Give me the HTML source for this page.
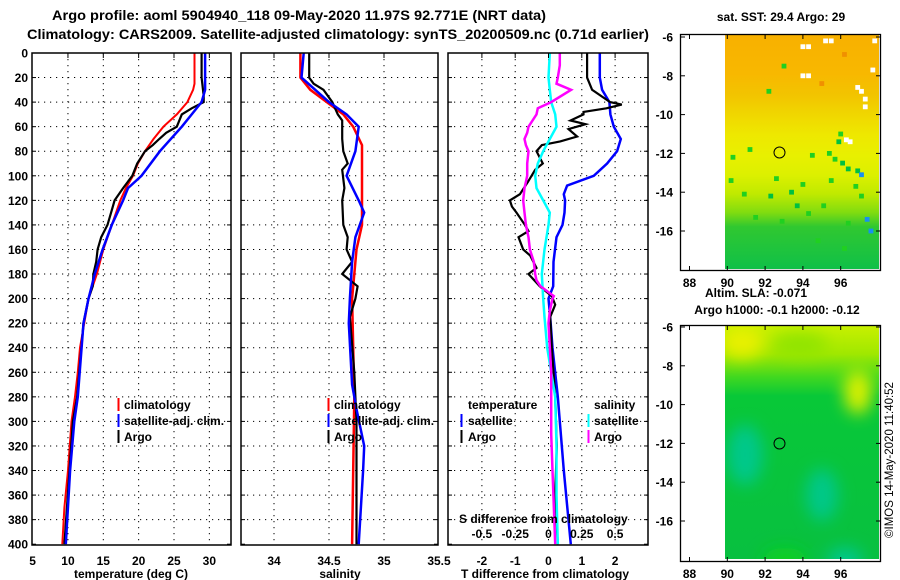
<!DOCTYPE html>
<html><head><meta charset="utf-8"><style>
html,body{margin:0;padding:0;background:#fff}
svg{display:block;font-family:"Liberation Sans",sans-serif;font-weight:bold}
</style></head><body>
<svg id="root" width="900" height="580" viewBox="0 0 900 580" xmlns="http://www.w3.org/2000/svg">
<defs>
<linearGradient id="sstgrad" x1="0" y1="0" x2="0" y2="1">
<stop offset="0" stop-color="#f8b000"/><stop offset="0.17" stop-color="#f8b800"/>
<stop offset="0.26" stop-color="#f2c400"/><stop offset="0.35" stop-color="#f0d800"/>
<stop offset="0.43" stop-color="#eee800"/><stop offset="0.52" stop-color="#e8f000"/>
<stop offset="0.6" stop-color="#dcf000"/><stop offset="0.68" stop-color="#c0ea00"/>
<stop offset="0.76" stop-color="#80dc10"/><stop offset="0.82" stop-color="#30c830"/>
<stop offset="1" stop-color="#10c048"/></linearGradient>
<linearGradient id="slagrad" x1="0" y1="0" x2="0" y2="1">
<stop offset="0" stop-color="#c8f000"/><stop offset="0.12" stop-color="#a0e800"/>
<stop offset="0.22" stop-color="#40d820"/><stop offset="0.3" stop-color="#08c838"/>
<stop offset="1" stop-color="#08c040"/></linearGradient>
<filter id="blur" x="-50%" y="-50%" width="200%" height="200%"><feGaussianBlur stdDeviation="8"/></filter>
<clipPath id="cp1"><rect x="32" y="53" width="199" height="492"/></clipPath>
<clipPath id="cp2"><rect x="241" y="53" width="197" height="492"/></clipPath>
<clipPath id="cp3"><rect x="448" y="53" width="200" height="492"/></clipPath>
<clipPath id="cpm2"><rect x="725" y="326" width="154" height="233"/></clipPath>
</defs>
<text x="299" y="20" text-anchor="middle" font-size="13.5" textLength="494" lengthAdjust="spacingAndGlyphs">Argo profile: aoml 5904940_118 09-May-2020 11.97S 92.771E (NRT data)</text>
<text x="338" y="39" text-anchor="middle" font-size="13.5" textLength="622" lengthAdjust="spacingAndGlyphs">Climatology: CARS2009. Satellite-adjusted climatology: synTS_20200509.nc (0.71d earlier)</text>
<g id="grids"></g>
<g id="lines"></g>
<g id="frames"></g>
<g id="legends" font-size="12">
<line x1="118.5" y1="398" x2="118.5" y2="411" stroke="#f00" stroke-width="2"/>
<text x="124" y="409">climatology</text>
<line x1="118.5" y1="414" x2="118.5" y2="427" stroke="#00f" stroke-width="2"/>
<text x="124" y="425">satellite-adj. clim.</text>
<line x1="118.5" y1="430" x2="118.5" y2="443" stroke="#000" stroke-width="2"/>
<text x="124" y="441">Argo</text>
<line x1="328.5" y1="398" x2="328.5" y2="411" stroke="#f00" stroke-width="2"/>
<text x="334" y="409">climatology</text>
<line x1="328.5" y1="414" x2="328.5" y2="427" stroke="#00f" stroke-width="2"/>
<text x="334" y="425">satellite-adj. clim.</text>
<line x1="328.5" y1="430" x2="328.5" y2="443" stroke="#000" stroke-width="2"/>
<text x="334" y="441">Argo</text>
<text x="468" y="409">temperature</text>
<line x1="461.5" y1="414" x2="461.5" y2="427" stroke="#00f" stroke-width="2"/>
<text x="468" y="425">satellite</text>
<line x1="461.5" y1="430" x2="461.5" y2="443" stroke="#000" stroke-width="2"/>
<text x="468" y="441">Argo</text>
<text x="594" y="409">salinity</text>
<line x1="588.5" y1="414" x2="588.5" y2="427" stroke="#0ff" stroke-width="2"/>
<text x="594" y="425">satellite</text>
<line x1="588.5" y1="430" x2="588.5" y2="443" stroke="#f0f" stroke-width="2"/>
<text x="594" y="441">Argo</text>
<text x="459" y="523">S difference from climatology</text>
</g>
<g id="axislabels" font-size="12"></g>
<text x="131" y="578" text-anchor="middle" font-size="12">temperature (deg C)</text>
<text x="340" y="578" text-anchor="middle" font-size="12">salinity</text>
<text x="545" y="578" text-anchor="middle" font-size="12">T difference from climatology</text>

<!-- Maps -->
<text x="781" y="21" text-anchor="middle" font-size="12">sat. SST: 29.4 Argo: 29</text>
<g>
<rect x="725" y="34" width="154" height="235" fill="url(#sstgrad)"/>
<g id="sstcells"></g>
<circle cx="779.5" cy="152.5" r="5.5" fill="none" stroke="#000" stroke-width="1"/>
<rect x="680.5" y="34.5" width="200" height="236" fill="none" stroke="#000" stroke-width="1.3"/>
</g>
<text x="756" y="297" text-anchor="middle" font-size="12">Altim. SLA: -0.071</text>
<text x="777" y="314" text-anchor="middle" font-size="12">Argo h1000: -0.1 h2000: -0.12</text>
<g>
<rect x="725" y="326" width="154" height="233" fill="url(#slagrad)"/>
<g clip-path="url(#cpm2)" filter="url(#blur)">
<ellipse cx="742" cy="342" rx="22" ry="16" fill="#e8f000"/>
<ellipse cx="858" cy="392" rx="14" ry="22" fill="#d8f000"/>
<ellipse cx="800" cy="345" rx="28" ry="12" fill="#90e400"/>
<ellipse cx="745" cy="455" rx="18" ry="30" fill="#00c88a"/>
<ellipse cx="822" cy="495" rx="16" ry="26" fill="#00c888"/>
<ellipse cx="845" cy="560" rx="18" ry="12" fill="#00c890"/>
<ellipse cx="785" cy="560" rx="22" ry="12" fill="#10d020"/>
</g>
<circle cx="779.5" cy="443.5" r="5.5" fill="none" stroke="#000" stroke-width="1"/>
<rect x="680.5" y="325.5" width="200" height="236" fill="none" stroke="#000" stroke-width="1.3"/>
</g>
<g id="mapaxes" font-size="12"></g>
<text transform="translate(893,460) rotate(-90)" text-anchor="middle" font-size="11.5" font-weight="normal">©IMOS 14-May-2020 11:40:52</text>
</svg>
<script>
// ---------- data ----------
const tClimDepth=[0,25,30,40,50,60,70,80,90,100,110,120,140,160,180,200,240,260,280,300,340,370,400];
const tClimVals=[27.9,27.9,27.7,26.9,25.4,23.5,22.1,20.9,19.9,19.2,18.2,17.4,16.2,15.0,14.1,12.9,11.7,11.4,11.0,10.5,10.0,9.5,9.2];
const tSatDepth=[0,30,40,50,60,80,100,110,120,140,160,180,200,220,280,300,340,400];
const tSatVals=[29.4,29.4,28.9,27.5,26.1,23.0,20.4,18.5,17.8,16.2,14.9,13.8,12.9,12.2,11.4,10.9,10.3,9.7];
const tArgoDepth=[0,20,35,40,45,50,60,65,70,75,80,90,100,110,120,130,140,150,160,170,180,190,200,220,280,300,400];
const tArgoVals=[28.9,28.9,29.2,29.2,27.5,26.1,25.4,23.9,22.9,22.0,20.9,19.8,19.1,17.8,16.6,16.1,15.6,14.7,14.2,14.0,13.6,13.5,12.9,12.2,11.3,10.7,9.5];
const sClimDepth=[0,20,30,40,50,60,75,100,140,160,200,280,400];
const sClimVals=[34.24,34.24,34.33,34.48,34.63,34.72,34.80,34.80,34.80,34.75,34.71,34.73,34.71];
const sSatDepth=[0,20,40,50,60,80,100,120,130,150,170,200,220,270,290,320,340,370,400];
const sSatVals=[34.27,34.25,34.50,34.66,34.77,34.74,34.66,34.77,34.82,34.74,34.71,34.69,34.68,34.71,34.75,34.82,34.81,34.79,34.77];
const sArgoDepth=[0,20,25,30,40,50,55,70,80,90,95,110,120,140,150,160,170,180,190,200,215,260,300,400];
const sArgoVals=[34.32,34.32,34.36,34.45,34.53,34.58,34.62,34.62,34.63,34.67,34.62,34.64,34.62,34.63,34.67,34.66,34.71,34.62,34.76,34.74,34.69,34.73,34.75,34.75];
const dTArgoDepth=[0,20,30,40,42,45,48,50,55,58,62,68,72,75,80,90,95,105,115,120,125,130,140,145,150,160,165,175,180,190,198,205,215,240,280,320,360,400];
const dTArgoVals=[1.16,1.16,1.31,1.85,2.2,1.74,1.05,1.05,0.66,1.11,0.6,0.86,0.35,-0.2,-0.36,-0.17,-0.4,-0.62,-0.86,-1.16,-1.1,-0.96,-0.71,-0.6,-0.9,-0.76,-0.55,-0.36,-0.6,-0.26,0.1,0.2,0.05,0.1,0.2,0.25,0.2,0.28];
const dTSatDepth=[0,20,30,40,50,60,70,80,90,100,108,115,120,130,140,150,170,190,200,215,240,280,340,400];
const dTSatVals=[1.54,1.54,1.61,1.83,1.86,1.96,2.17,2.06,1.76,1.36,0.56,0.46,0.5,0.48,0.42,0.24,0.15,0.14,0.0,0.05,0.12,0.28,0.46,0.67];
const dSSatDepth=[0,20,30,40,50,60,70,80,90,100,110,120,130,140,160,180,200,215,240,280,320,360,400];
const dSSatVals=[0.01,0,0.01,0.02,0.05,0.06,0.01,-0.04,-0.08,-0.1,-0.09,-0.04,0.01,0,-0.03,-0.05,-0.04,-0.03,-0.01,0.05,0.06,0.06,0.07];
const dSArgoDepth=[0,10,20,25,30,40,45,50,60,65,70,75,80,90,100,105,110,120,130,140,150,160,170,180,185,190,198,200,210,220,260,280,310,340,400];
const dSArgoVals=[0.085,0.085,0.07,0.06,0.17,0.02,-0.08,-0.09,-0.15,-0.16,-0.18,-0.17,-0.15,-0.16,-0.16,-0.17,-0.18,-0.19,-0.18,-0.17,-0.15,-0.14,-0.11,-0.10,-0.09,-0.06,0.04,0.03,0.01,0.0,0.02,0.02,0.02,0.03,0.05];
const depthTicks=[0,20,40,60,80,100,120,140,160,180,200,220,240,260,280,300,320,340,360,380,400];
const tTicks=[5,10,15,20,25,30];
const sTicks=[34,34.5,35,35.5];
const dTTicks=[-2,-1,0,1,2];
const dSTicks=[-0.5,-0.25,0,0.25,0.5];
const dSTickLabels=["-0.5","-0.25","0","0.25","0.5"];
const latTicks=[-6,-8,-10,-12,-14,-16];
const lonTicks=[88,90,92,94,96];
// SST map anomalies: [lon, lat, kind] kind: g=green, d=dark green, w=white, o=dark orange, b=blue
const sstCells=[[93.0,-7.5,'g'],[92.2,-8.8,'g'],[95.9,-11.4,'d'],[96.3,-11.3,'w'],[96.5,-11.4,'w'],[95.7,-12.3,'g'],[96.1,-12.5,'d'],[96.4,-12.8,'d'],[96.9,-12.9,'d'],[97.1,-13.1,'b'],[95.4,-12.0,'g'],[94.5,-12.1,'g'],[91.2,-11.8,'g'],[90.3,-12.2,'g'],[93.4,-14.0,'d'],[92.3,-14.2,'d'],[90.9,-14.1,'g'],[93.7,-14.7,'d'],[94.3,-15.1,'g'],[95.1,-14.7,'g'],[97.4,-15.4,'b'],[96.4,-15.6,'g'],[94.0,-13.6,'g'],[95.5,-13.4,'g'],[92.9,-15.5,'g'],[91.5,-15.3,'g'],[94.8,-16.5,'g'],[96.2,-16.9,'g'],[96.8,-13.7,'g'],[92.6,-13.3,'g'],[95.0,-8.4,'o'],[96.2,-6.9,'o'],[94.0,-6.5,'w'],[94.3,-6.5,'w'],[95.2,-6.2,'w'],[95.5,-6.2,'w'],[94.0,-8.0,'w'],[94.3,-8.0,'w'],[96.9,-8.6,'w'],[97.1,-8.8,'w'],[97.3,-9.2,'w'],[97.3,-9.6,'w'],[97.8,-6.2,'w'],[97.7,-7.7,'w'],[96.0,-11.0,'g'],[97.1,-14.2,'g'],[90.2,-13.4,'g'],[97.6,-16.0,'b']];

// ---------- scales ----------
const yD=d=>53+d*1.228;
const xT=t=>32.6+(t-5)*7.07;
const xS=s=>274+(s-34)*110;
const xdT=v=>548.5+v*33.3;
const xdS=v=>548.5+v*133.2;
const yLat1=l=>37+(-6-l)*19.4;
const yLat2=l=>327+(-6-l)*19.4;
const xLon=l=>689.5+(l-88)*18.9;

const NS="http://www.w3.org/2000/svg";
function mk(tag,attrs,parent){const e=document.createElementNS(NS,tag);for(const k in attrs)e.setAttribute(k,attrs[k]);parent.appendChild(e);return e;}
const grids=document.getElementById('grids'),lines=document.getElementById('lines'),frames=document.getElementById('frames'),labels=document.getElementById('axislabels'),mapaxes=document.getElementById('mapaxes');

const panels=[
 {x0:32,x1:231,xs:xT,ticks:tTicks,name:'temperature',cp:'cp1'},
 {x0:241,x1:438,xs:xS,ticks:sTicks,name:'salinity',cp:'cp2'},
 {x0:448,x1:648,xs:xdT,ticks:dTTicks,name:'difference',cp:'cp3'}];
panels.forEach(p=>{
 depthTicks.forEach(d=>{
  if(d>0&&d<400){const l=mk('line',{x1:p.x0,x2:p.x1,y1:yD(d),y2:yD(d),stroke:'#000','stroke-width':1,'stroke-dasharray':'1.2,4.8'},grids);
  
  }
  const t=mk('line',{x1:p.x0,x2:p.x0+4,y1:yD(d),y2:yD(d),stroke:'#000','stroke-width':1},frames);
  
  
  const t2=mk('line',{x1:p.x1-4,x2:p.x1,y1:yD(d),y2:yD(d),stroke:'#000','stroke-width':1},frames);
  
  
 });
 p.ticks.forEach(v=>{
  const x=p.xs(v);
  if(x>p.x0+2&&x<p.x1-2){const l=mk('line',{x1:x,x2:x,y1:53,y2:545,stroke:'#000','stroke-width':1,'stroke-dasharray':'1.2,4.8'},grids);
  
  
  const a=mk('line',{x1:x,x2:x,y1:53,y2:58,stroke:'#000'},frames);
  
  }
  const lb=mk('text',{x:x,y:565,'text-anchor':'middle'},labels);lb.textContent=String(v);
  
  
 });
 const r=mk('rect',{x:p.x0,y:53,width:p.x1-p.x0,height:492,fill:'none',stroke:'#000','stroke-width':1.5},frames);
 
 
});
depthTicks.forEach(d=>{const lb=mk('text',{x:28,y:yD(d)+4.5,'text-anchor':'end'},labels);lb.textContent=String(d);
 
 });
dSTicks.forEach((v,i)=>{const lb=mk('text',{x:xdS(v),y:538,'text-anchor':'middle'},document.getElementById('legends'));lb.textContent=dSTickLabels[i];
 
 });

function series(depths,vals,xs,color,w,cp,name){
 const pts=depths.map((d,i)=>xs(vals[i]).toFixed(1)+','+yD(d).toFixed(1)).join(' ');
 const pl=mk('polyline',{points:pts,fill:'none',stroke:color,'stroke-width':w,'stroke-linejoin':'miter','clip-path':'url(#'+cp+')'},lines);
 
 
}
series(tClimDepth,tClimVals,xT,'#f00',2,'cp1','temperature-climatology-line');
series(tArgoDepth,tArgoVals,xT,'#000',2.2,'cp1','temperature-argo-line');
series(tSatDepth,tSatVals,xT,'#00f',2.5,'cp1','temperature-satellite-line');
series(sClimDepth,sClimVals,xS,'#f00',2.5,'cp2','salinity-climatology-line');
series(sArgoDepth,sArgoVals,xS,'#000',2.2,'cp2','salinity-argo-line');
series(sSatDepth,sSatVals,xS,'#00f',2.5,'cp2','salinity-satellite-line');
series(dTSatDepth,dTSatVals,xdT,'#00f',2.5,'cp3','t-diff-satellite-line');
series(dTArgoDepth,dTArgoVals,xdT,'#000',2.2,'cp3','t-diff-argo-line');
series(dSSatDepth,dSSatVals,xdS,'#0ff',2.5,'cp3','s-diff-satellite-line');
series(dSArgoDepth,dSArgoVals,xdS,'#f0f',2.5,'cp3','s-diff-argo-line');

// SST cells
const cellCol={g:'#20d020',d:'#00c040',w:'#ffffff',o:'#f09000',b:'#1890f0'};
const sc=document.getElementById('sstcells');
sstCells.forEach(c=>{const r=mk('rect',{x:xLon(c[0])-2.4,y:yLat1(c[1])-2.4,width:4.8,height:4.8,fill:cellCol[c[2]]},sc);
 
 });

// map axes
[[yLat1,35,270],[yLat2,326,561]].forEach(([yl,top,bot])=>{
 latTicks.forEach(l=>{const y=yl(l);
  const lb=mk('text',{x:673,y:y+4.5,'text-anchor':'end'},mapaxes);lb.textContent=String(l);
  
  
  const t=mk('line',{x1:681,x2:685,y1:y,y2:y,stroke:'#000'},mapaxes);
  
  
  const t2=mk('line',{x1:876,x2:880,y1:y,y2:y,stroke:'#000'},mapaxes);
  
  });
 lonTicks.forEach(l=>{const x=xLon(l);
  const lb=mk('text',{x:x,y:bot+17,'text-anchor':'middle'},mapaxes);lb.textContent=String(l);
  
  
  const t=mk('line',{x1:x,x2:x,y1:bot-4,y2:bot,stroke:'#000'},mapaxes);
  
  
  const t2=mk('line',{x1:x,x2:x,y1:top,y2:top+4,stroke:'#000'},mapaxes);
  
  });
});
</script>
</body></html>
